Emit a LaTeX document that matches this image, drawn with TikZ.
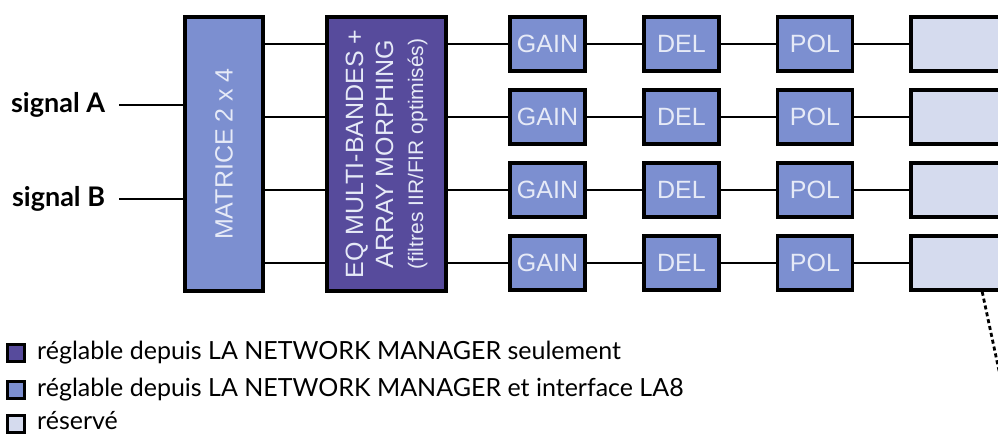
\documentclass[tikz,border=0pt]{standalone}
\usepackage{fontspec}
\setsansfont{Liberation Sans}
\newfontfamily\legendfont{Lato}
\usepackage{tikz}
\usetikzlibrary{calc}
\definecolor{eqpurple}{HTML}{574B9C}
\definecolor{blockblue}{HTML}{7C8FD0}
\definecolor{freeblue}{HTML}{D5DBEE}
\definecolor{labelwhite}{HTML}{E6EAF7}
\tikzset{
	block/.style={draw=black, line width=3.6pt, fill=blockblue, text=labelwhite, inner sep=0pt,
		font=\sffamily\fontsize{25}{30}\selectfont},
	dspblock/.style={block, fill=eqpurple},
	freeblock/.style={block, fill=freeblue},
	chanbox/.style={block, minimum width=75pt, minimum height=54pt},
	wire/.style={line width=2.8pt},
	signame/.style={anchor=east, inner xsep=0pt, outer xsep=14pt, font=\legendfont\bfseries\fontsize{27}{30}\selectfont},
	keybox/.style={draw=black, line width=3pt, minimum size=17pt, inner sep=0pt},
	keytext/.style={anchor=west, inner sep=0pt, font=\legendfont\fontsize{25}{30}\selectfont}
}

\begin{document}
\begin{tikzpicture}[x=1pt, y=-1pt]
		%%%%% START %%%%%
		\useasboundingbox (0, 0) rectangle (998, 436);
		\clip (0, 0) rectangle (998, 436);
		
		\node[block, rotate=90, minimum width=274pt, minimum height=78pt] (mat) at (224, 154) {MATRICE 2 x 4};
		\node[dspblock, rotate=90, minimum width=274pt, minimum height=119pt, align=center] (eq) at (386.5, 154)
			{EQ MULTI-BANDES +\\ARRAY MORPHING\\{\fontsize{21}{25}\selectfont (filtres IIR/FIR optimisés)}};
		
		\node[signame] (sigA) at (119, 105) {signal A};
		\node[signame] (sigB) at (119, 199) {signal B};
		\draw[wire] (sigA.east) -- (mat.north |- sigA.east);
		\draw[wire] (sigB.east) -- (mat.north |- sigB.east);
		
		% voie 1
		\node[chanbox] (gain1) at (547.5, 44) {GAIN};
		\node[chanbox] (del1) at (681.5, 44) {DEL};
		\node[chanbox] (pol1) at (815, 44) {POL};
		\node[chanbox, freeblock, minimum width=150pt] (res1) at (986, 44) {};
		% voie 2
		\node[chanbox] (gain2) at (547.5, 117) {GAIN};
		\node[chanbox] (del2) at (681.5, 117) {DEL};
		\node[chanbox] (pol2) at (815, 117) {POL};
		\node[chanbox, freeblock, minimum width=150pt] (res2) at (986, 117) {};
		% voie 3
		\node[chanbox] (gain3) at (547.5, 190) {GAIN};
		\node[chanbox] (del3) at (681.5, 190) {DEL};
		\node[chanbox] (pol3) at (815, 190) {POL};
		\node[chanbox, freeblock, minimum width=150pt] (res3) at (986, 190) {};
		% voie 4
		\node[chanbox] (gain4) at (547.5, 263) {GAIN};
		\node[chanbox] (del4) at (681.5, 263) {DEL};
		\node[chanbox] (pol4) at (815, 263) {POL};
		\node[chanbox, freeblock, minimum width=150pt] (res4) at (986, 263) {};
		
		\draw[wire] (mat.south |- gain1) -- (eq.north |- gain1) (eq.south |- gain1) -- (gain1) -- (del1) -- (pol1) -- (res1);
		\draw[wire] (mat.south |- gain2) -- (eq.north |- gain2) (eq.south |- gain2) -- (gain2) -- (del2) -- (pol2) -- (res2);
		\draw[wire] (mat.south |- gain3) -- (eq.north |- gain3) (eq.south |- gain3) -- (gain3) -- (del3) -- (pol3) -- (res3);
		\draw[wire] (mat.south |- gain4) -- (eq.north |- gain4) (eq.south |- gain4) -- (gain4) -- (del4) -- (pol4) -- (res4);
		
		\coordinate (out4) at (1001, 380);
		\draw[line width=2.8pt, dash pattern=on 4pt off 3pt] ($(res4.south west)+(73, 0)$) -- (out4);
		
		% legende
		\node[keybox, fill=eqpurple] (key1) at (15.5, 353) {};
		\node[keybox, fill=blockblue] (key2) at (15.5, 390) {};
		\node[keybox, fill=freeblue] (key3) at (15.5, 424) {};
		\node[keytext] (txt1) at (37, 353) {réglable depuis LA NETWORK MANAGER seulement};
		\node[keytext] (txt2) at (37, 390) {réglable depuis LA NETWORK MANAGER et interface LA8};
		\node[keytext] (txt3) at (37, 421) {réservé};
		
		%%%%% END %%%%%
\end{tikzpicture}
\end{document}
